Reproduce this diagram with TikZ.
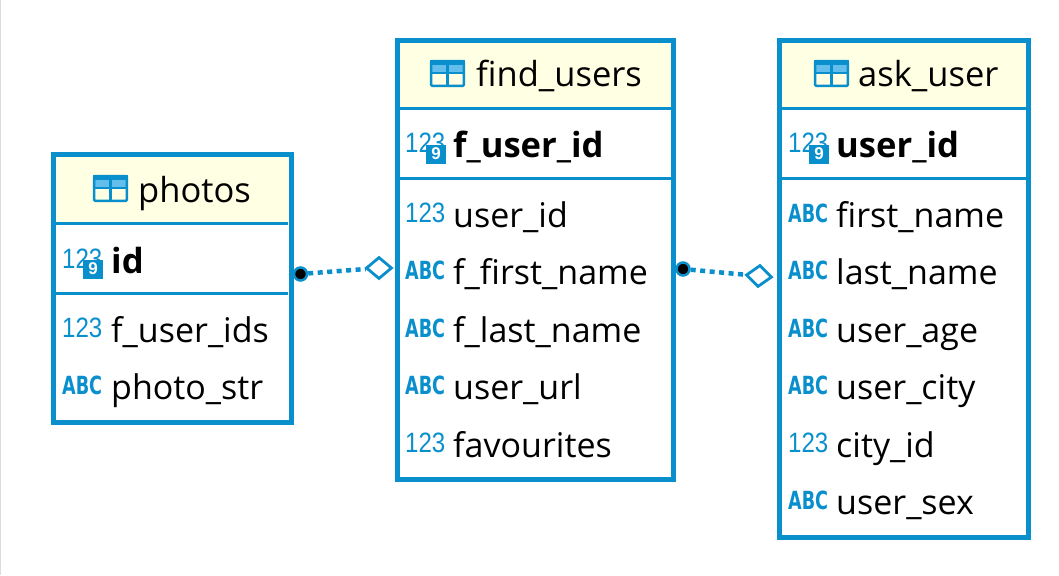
\documentclass[tikz,border=0pt]{standalone}
\usepackage{fontspec}
\setmainfont{Open Sans}
\newfontfamily\iconfont{Liberation Sans}
\newfontfamily\abcfont{DejaVu Sans}
\usetikzlibrary{shapes.geometric}
\definecolor{erblue}{HTML}{0A8FCD}
\definecolor{erlight}{HTML}{63BEEB}
\definecolor{eryellow}{HTML}{FFFFE3}
\definecolor{ergray}{HTML}{DCDCDC}
\tikzset{
  tablebox/.style={draw=erblue, line width=5pt, rectangle, inner sep=0pt},
  headbox/.style={fill=eryellow, rectangle, inner sep=0pt},
  sepline/.style={draw=erblue, line width=3pt},
  title/.style={anchor=base west, inner sep=0pt, font=\fontsize{34.5}{34.5}\selectfont},
  column/.style={anchor=base west, inner sep=0pt, font=\fontsize{34}{34}\selectfont},
  keycolumn/.style={column, font=\fontsize{34.6}{34.6}\selectfont\bfseries},
  numicon/.style={anchor=base west, inner sep=0pt, text=erblue, font=\fontsize{28}{28}\iconfont},
  abcicon/.style={anchor=base west, inner sep=0pt, text=erblue, font=\fontsize{20}{20}\abcfont\bfseries},
  keyicon/.style={anchor=center, fill=erblue, text=white, inner sep=0pt, minimum width=20pt,
    minimum height=19pt, font=\fontsize{17}{17}\iconfont\bfseries},
  dotend/.style={circle, draw=erblue, fill=black, line width=2.5pt, inner sep=0pt, minimum size=13pt},
  diamondend/.style={diamond, draw=erblue, fill=white, line width=2.8pt, inner sep=0pt,
    minimum width=26pt, minimum height=22pt},
  relation/.style={draw=erblue, line width=4.5pt, dash pattern=on 5pt off 4.5pt},
}
\newcommand{\numtext}{\scalebox{.86}[1]{123}}
\newcommand{\abctext}{\scalebox{.88}[1.25]{ABC}}
% small table picture in front of each title
\newcommand{\tableicon}[2]{
  \fill [erlight] (#1,#2) rectangle ++(35,13);
  \fill [erblue] (#1,#2) rectangle ++(35,5);
  \draw [erblue, line width=2.5pt, rounded corners=1pt] (#1+1.2,#2+1.2) rectangle ++(32.6,24.6);
  \draw [erblue, line width=2.5pt] (#1,#2+13) -- ++(35,0);
  \draw [erblue, line width=2.5pt] (#1+17.5,#2+3) -- ++(0,23);
}
\begin{document}
\begin{tikzpicture}[x=1pt, y=-1pt]
  \useasboundingbox (0,0) rectangle (1059,575);
  \fill [white] (0,0) rectangle (1059,575);
  \draw [ergray, line width=1.5pt] (0.5,0) -- (0.5,575);

  % photos
  \node [headbox, minimum width=232pt, minimum height=66pt] (photoshead) at (172,190) {};
  \node [tablebox, minimum width=238pt, minimum height=268pt] (photos) at (172.5,288.5) {};
  \coordinate (photoskeyl) at (56,293);
  \coordinate (photoskeyr) at (288,293);
  \draw [sepline] (photoshead.south west) -- (photoshead.south east);
  \draw [sepline] (photoskeyl) -- (photoskeyr);
  \tableicon{93}{175}
  \node [title] (photostitle) at (138,202) {photos};
  \node [numicon] (photosidnum) at (62,268) {\numtext};
  \node [keyicon] (photosidkey) at (93,269) {9};
  \node [keycolumn] (photosid) at (111,273) {id};
  \node [numicon] (photosfnum) at (62,337) {\numtext};
  \node [column] (photosf) at (111,342) {f\_user\_ids};
  \node [abcicon] (photospabc) at (62,394) {\abctext};
  \node [column] (photosp) at (111,399) {photo\_str};

  % find_users
  \node [headbox, minimum width=271pt, minimum height=66pt] (findhead) at (535.5,75) {};
  \node [tablebox, minimum width=276pt, minimum height=439pt] (find) at (535.5,260) {};
  \coordinate (findkeyl) at (400,178);
  \coordinate (findkeyr) at (671,178);
  \draw [sepline] (findhead.south west) -- (findhead.south east);
  \draw [sepline] (findkeyl) -- (findkeyr);
  \tableicon{430}{60}
  \node [title] (findtitle) at (476,87) {find\_users};
  \node [numicon] (findidnum) at (405,152) {\numtext};
  \node [keyicon] (findidkey) at (436,154) {9};
  \node [keycolumn] (findid) at (453,157) {f\_user\_id};
  \node [numicon] (finduidnum) at (405,222) {\numtext};
  \node [column] (finduid) at (453,227) {user\_id};
  \node [abcicon] (findfirstabc) at (405,279) {\abctext};
  \node [column] (findfirst) at (453,284) {f\_first\_name};
  \node [abcicon] (findlastabc) at (405,337) {\abctext};
  \node [column] (findlast) at (453,342) {f\_last\_name};
  \node [abcicon] (findurlabc) at (405,394) {\abctext};
  \node [column] (findurl) at (453,399) {user\_url};
  \node [numicon] (findfavnum) at (405,452) {\numtext};
  \node [column] (findfav) at (453,457) {favourites};

  % ask_user
  \node [headbox, minimum width=244pt, minimum height=66pt] (askhead) at (904,75) {};
  \node [tablebox, minimum width=249pt, minimum height=497pt] (ask) at (904,289) {};
  \coordinate (askkeyl) at (782,178);
  \coordinate (askkeyr) at (1026,178);
  \draw [sepline] (askhead.south west) -- (askhead.south east);
  \draw [sepline] (askkeyl) -- (askkeyr);
  \tableicon{814}{60}
  \node [title] (asktitle) at (858,87) {ask\_user};
  \node [numicon] (askidnum) at (788,152) {\numtext};
  \node [keyicon] (askidkey) at (819,154) {9};
  \node [keycolumn] (askid) at (836,157) {user\_id};
  \node [abcicon] (askfirstabc) at (788,222) {\abctext};
  \node [column] (askfirst) at (836,227) {first\_name};
  \node [abcicon] (asklastabc) at (788,279) {\abctext};
  \node [column] (asklast) at (836,284) {last\_name};
  \node [abcicon] (askageabc) at (788,337) {\abctext};
  \node [column] (askage) at (836,342) {user\_age};
  \node [abcicon] (askcityabc) at (788,394) {\abctext};
  \node [column] (askcity) at (836,399) {user\_city};
  \node [numicon] (askcidnum) at (788,452) {\numtext};
  \node [column] (askcid) at (836,457) {city\_id};
  \node [abcicon] (asksexabc) at (788,509) {\abctext};
  \node [column] (asksex) at (836,514) {user\_sex};

  % relations
  \node [dotend] (photosdot) at (300.5,274) {};
  \node [diamondend] (photosdiamond) at (379,268) {};
  \draw [relation] (photosdot) -- (photosdiamond);
  \node [dotend] (finddot) at (683,269) {};
  \node [diamondend, rotate=-5] (finddiamond) at (759,276) {};
  \draw [relation] (finddot) -- (finddiamond);
\end{tikzpicture}
\end{document}
